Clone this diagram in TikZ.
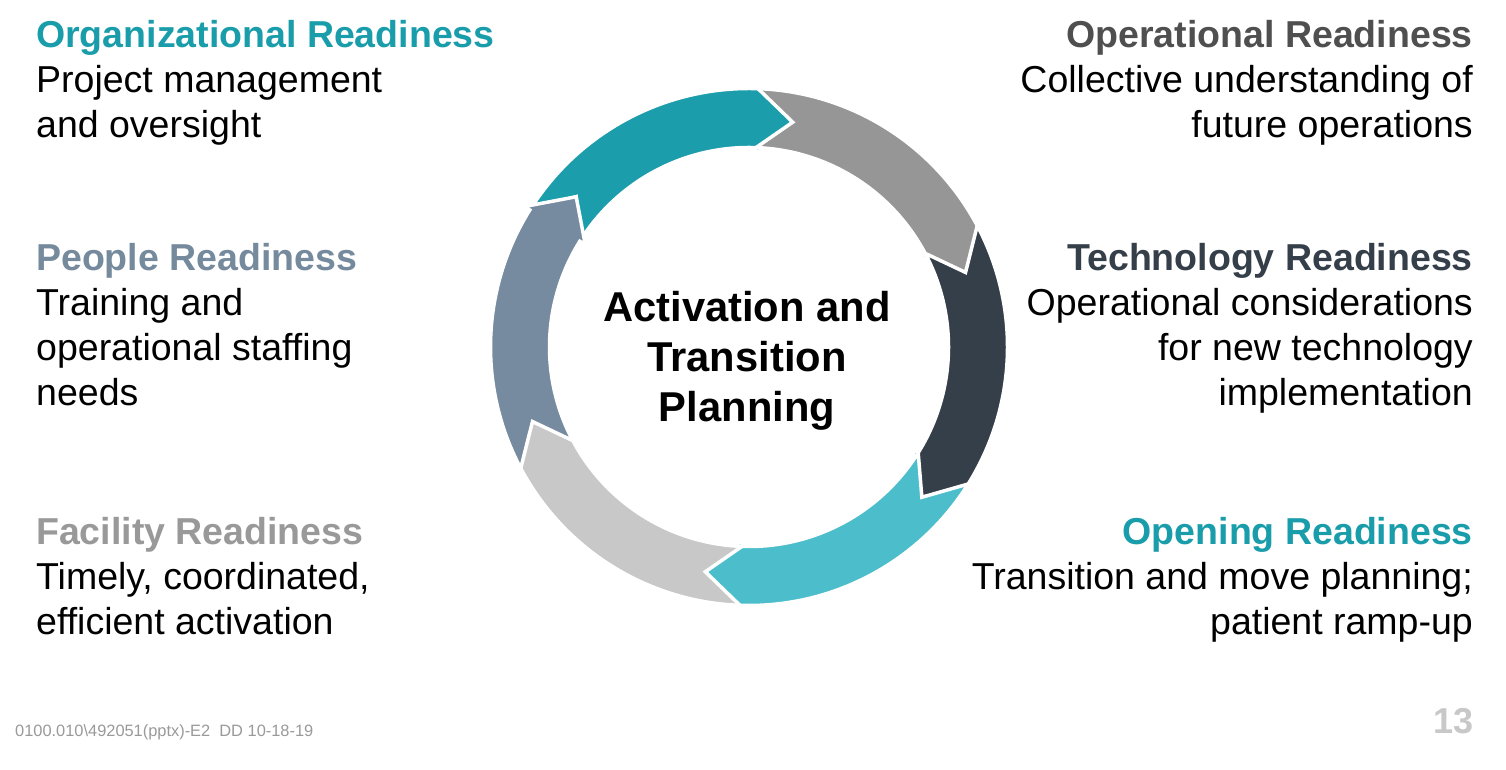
\documentclass[tikz,border=0pt]{standalone}
\usepackage{fontspec}
\setmainfont{Liberation Sans}
\definecolor{cTeal}{HTML}{1B9DAB}
\definecolor{cGray}{HTML}{969696}
\definecolor{cDark}{HTML}{353F4A}
\definecolor{cLTeal}{HTML}{4CBECB}
\definecolor{cLGray}{HTML}{C8C8C8}
\definecolor{cSlate}{HTML}{768B9F}
\definecolor{hTeal}{HTML}{1A9DAA}
\definecolor{hOper}{HTML}{4F4F4F}
\definecolor{hPeople}{HTML}{768A9E}
\definecolor{hTech}{HTML}{353F4A}
\definecolor{hFac}{HTML}{999999}
\definecolor{footgray}{HTML}{9A9A9A}
\definecolor{pagegray}{HTML}{C8C8C8}
\newcommand\hd{9}
\newcommand\ringarrow[3]{%
  \pgfmathsetmacro\rT{#2}\pgfmathsetmacro\rB{#3}%
  \pgfmathsetmacro\rTh{#2-\hd}\pgfmathsetmacro\rBh{#3-\hd}%
  \filldraw[fill=#1, draw=white, line width=3.5, line join=miter]
    (\rT:258.5) arc[start angle=\rT, end angle=\rB, radius=258.5]
    -- (\rB:265) -- (\rBh:229) -- (\rB:193) -- (\rB:199.5)
    arc[start angle=\rB, end angle=\rT, radius=199.5]
    -- (\rTh:229) -- cycle;}
\tikzset{
  body/.style={inner sep=0pt, font=\fontsize{37.5}{45}\selectfont, text=black},
  head/.style={body, font=\fontsize{37.5}{45}\selectfont\bfseries},
  ctr/.style={inner sep=0pt, anchor=base, font=\fontsize{41.7}{50}\selectfont\bfseries},
}
\begin{document}
\begin{tikzpicture}[x=1pt,y=1pt]
\useasboundingbox[fill=white] (0,0) rectangle (1506,770);
\begin{scope}[shift={(749,423)}]
  \ringarrow{cTeal}{148}{88}
  \ringarrow{cGray}{88}{28}
  \ringarrow{cDark}{28}{-32}
  \ringarrow{cLTeal}{-32}{-92}
  \ringarrow{cLGray}{-92}{-152}
  \ringarrow{cSlate}{-152}{-212}
\end{scope}
% center text
\node[ctr] (c1) at (747,448) {Activation and};
\node[ctr] (c2) at (747,398) {Transition};
\node[ctr] (c3) at (747,348) {Planning};
% left blocks
\node[head, text=hTeal, anchor=base west] (o1) at (36,722) {Organizational Readiness};
\node[body, anchor=base west] (o2) at (36,677) {Project management};
\node[body, anchor=base west] (o3) at (36,632) {and oversight};
\node[head, text=hPeople, anchor=base west] (p1) at (36,499) {People Readiness};
\node[body, anchor=base west] (p2) at (36,454) {Training and};
\node[body, anchor=base west] (p3) at (36,409) {operational staffing};
\node[body, anchor=base west] (p4) at (36,364) {needs};
\node[head, text=hFac, anchor=base west] (f1) at (36,225) {Facility Readiness};
\node[body, anchor=base west] (f2) at (36,180) {Timely, coordinated,};
\node[body, anchor=base west] (f3) at (36,135) {efficient activation};
% right blocks
\node[head, text=hOper, anchor=base east] (r1) at (1473,722) {Operational Readiness};
\node[body, anchor=base east] (r2) at (1473,677) {Collective understanding of};
\node[body, anchor=base east] (r3) at (1473,632) {future operations};
\node[head, text=hTech, anchor=base east] (t1) at (1473,499) {Technology Readiness};
\node[body, anchor=base east] (t2) at (1473,454) {Operational considerations};
\node[body, anchor=base east] (t3) at (1473,409) {for new technology};
\node[body, anchor=base east] (t4) at (1473,364) {implementation};
\node[head, text=hTeal, anchor=base east] (g1) at (1473,225) {Opening Readiness};
\node[body, anchor=base east] (g2) at (1473,180) {Transition and move planning;};
\node[body, anchor=base east] (g3) at (1473,135) {patient ramp-up};
% footer
\node[inner sep=0pt, anchor=base west, text=footgray, font=\fontsize{16.4}{19}\selectfont] (foot) at (15,33) {0100.010\textbackslash 492051(pptx)-E2\ \ DD 10-18-19};
\node[inner sep=0pt, anchor=base east, text=pagegray, font=\fontsize{36}{40}\selectfont\bfseries] (page) at (1474,36) {13};
\end{tikzpicture}
\end{document}
